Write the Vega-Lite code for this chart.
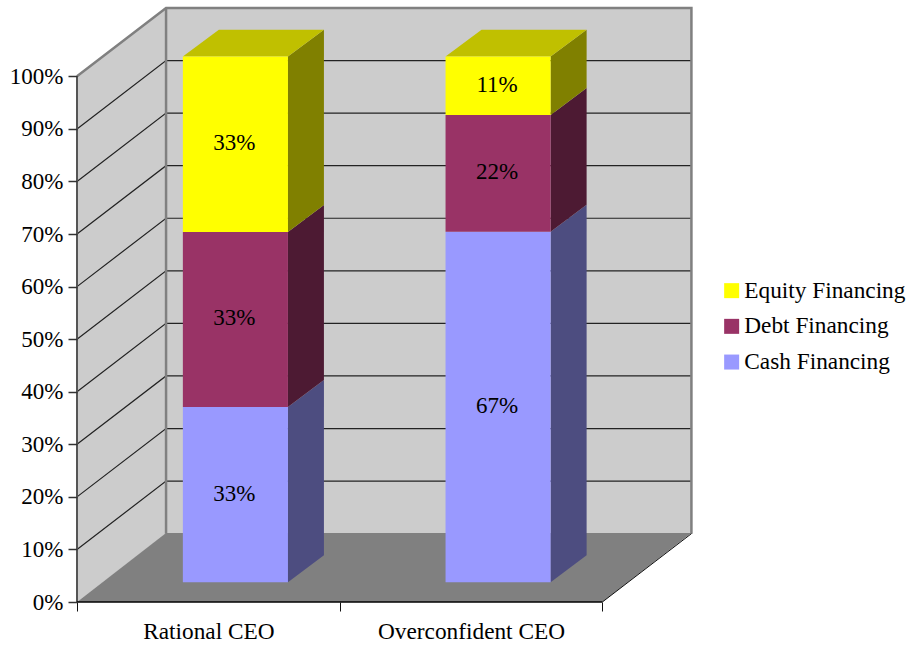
{
"$schema":"https://vega.github.io/schema/vega-lite/v6.json",
"autosize":{"type":"none"},
"padding":{"left":77,"top":8,"right":216,"bottom":44},
"width":616,"height":594,
"background":"white",
"config":{"view":{"stroke":null},"font":"Liberation Serif","text":{"font":"Liberation Serif"}},
"datasets":{
"floor":[{"x":0,"y":0,"y2":0},{"x":0.339,"y":0,"y2":13.15},{"x":2,"y":0,"y2":13.15},{"x":2.339,"y":13.15,"y2":13.15}],
"leftWall":[{"x":0,"y":0,"y2":100},{"x":0.339,"y":13,"y2":113}],
"backWall":[{"x":0.339,"y":13,"y2":113},{"x":2.339,"y":13,"y2":113}],
"grid":[{"pct":10},{"pct":20},{"pct":30},{"pct":40},{"pct":50},{"pct":60},{"pct":70},{"pct":80},{"pct":90}],
"frame":[{"path":"a","x":0,"y":100},{"path":"a","x":0.339,"y":113},{"path":"a","x":2.339,"y":113},{"path":"a","x":2.339,"y":13},{"path":"b","x":0.339,"y":13},{"path":"b","x":0.339,"y":113}],
"floorEdge":[{"x":2,"y":0},{"x":2.339,"y":13}],
"leftAxis":[{"x":0,"y":0},{"x":0,"y":100}],
"bottomAxis":[{"x":0,"y":0},{"x":2,"y":0}]
},
"data":{"values":[
{"ceo":"Rational CEO","series":"Cash Financing","value":33.33},
{"ceo":"Rational CEO","series":"Debt Financing","value":33.33},
{"ceo":"Rational CEO","series":"Equity Financing","value":33.34},
{"ceo":"Overconfident CEO","series":"Cash Financing","value":66.67},
{"ceo":"Overconfident CEO","series":"Debt Financing","value":22.22},
{"ceo":"Overconfident CEO","series":"Equity Financing","value":11.11}
]},
"transform":[
{"stack":"value","groupby":["ceo"],"sort":[{"field":"series","order":"ascending"}],"as":["v0","v1"]},
{"calculate":"datum.ceo==='Rational CEO'?0.403:1.403","as":"left"}
],
"encoding":{
"x":{"field":"x","type":"quantitative","title":null,"scale":{"domain":[0,2.345],"nice":false,"zero":false},
"axis":{"values":[0,0.5,1,1.5,2],"grid":false,"domain":false,"tickSize":9,"tickColor":"#111111","tickWidth":1,"tickOpacity":{"condition":{"test":"datum.value===0.5||datum.value===1.5","value":0},"value":1},"labelExpr":"datum.value===0.5?'Rational CEO':datum.value===1.5?'Overconfident CEO':''","labelFont":"Liberation Serif","labelFontSize":23.3,"labelColor":"#000000","labelPadding":9,"labelLimit":400,"labelOverlap":false,"labelFlush":false,"zindex":1}},
"y":{"field":"y","type":"quantitative","title":null,"stack":null,"scale":{"domain":[0,113],"nice":false,"zero":false},
"axis":{"values":[0,10,20,30,40,50,60,70,80,90,100],"grid":false,"domain":false,"tickSize":9,"tickColor":"#333333","tickWidth":1.5,"labelExpr":"datum.value+'%'","labelFont":"Liberation Serif","labelFontSize":23,"labelColor":"#000000","labelPadding":5,"labelOverlap":false,"labelFlush":false,"zindex":1}}
},
"layer":[
{"data":{"name":"leftWall"},"mark":{"type":"area","color":"#cccccc","orient":"vertical"},"encoding":{"y2":{"field":"y2"}}},
{"data":{"name":"backWall"},"mark":{"type":"area","color":"#cccccc","orient":"vertical"},"encoding":{"y2":{"field":"y2"}}},
{"data":{"name":"grid"},"transform":[
 {"calculate":"[0,1,2]","as":"c"},{"flatten":["c"]},
 {"calculate":"[0,0.339,2.339][datum.c]","as":"x"},
 {"calculate":"datum.pct+(datum.c===0?0:13)","as":"y"}],
 "mark":{"type":"line","color":"#222222","strokeWidth":1.2},"encoding":{"detail":{"field":"pct"},"order":{"field":"c"}}},
{"data":{"name":"floor"},"mark":{"type":"area","color":"#808080","orient":"vertical"},"encoding":{"y2":{"field":"y2"}}},
{"data":{"name":"frame"},"mark":{"type":"line","color":"#808080","strokeWidth":2.5},"encoding":{"detail":{"field":"path"},"order":null}},
{"data":{"name":"floorEdge"},"mark":{"type":"line","color":"#111111","strokeWidth":1},"encoding":{"order":null}},
{"data":{"name":"leftAxis"},"mark":{"type":"line","color":"#555555","strokeWidth":2},"encoding":{"order":null}},
{"data":{"name":"bottomAxis"},"mark":{"type":"line","color":"#000000","strokeWidth":1.5},"encoding":{"order":null}},
{"transform":[
 {"calculate":"[0,1]","as":"c"},{"flatten":["c"]},
 {"calculate":"datum.left+0.4+datum.c*0.137","as":"x"},
 {"calculate":"datum.v0+3.75+datum.c*5.13","as":"y"},
 {"calculate":"datum.v1+3.75+datum.c*5.13","as":"y2"},
 {"calculate":"datum.ceo+datum.series","as":"key"}],
 "mark":{"type":"area","orient":"vertical"},
 "encoding":{"y2":{"field":"y2"},"detail":{"field":"key"},
  "fill":{"field":"series","type":"nominal","legend":null,"scale":{"domain":["Cash Financing","Debt Financing","Equity Financing"],"range":["#4d4d80","#4d1a33","#808000"]}}}},
{"transform":[
 {"filter":"datum.series==='Equity Financing'"},
 {"calculate":"[0,1,2,3]","as":"c"},{"flatten":["c"]},
 {"calculate":"datum.left+[0,0.137,0.4,0.537][datum.c]","as":"x"},
 {"calculate":"datum.v1+3.75+[0,0,0,5.13][datum.c]","as":"y"},
 {"calculate":"datum.v1+3.75+[0,5.13,5.13,5.13][datum.c]","as":"y2"}],
 "mark":{"type":"area","color":"#c0c000","orient":"vertical"},
 "encoding":{"y2":{"field":"y2"},"detail":{"field":"ceo"}}},
{"transform":[
 {"calculate":"datum.left","as":"x"},
 {"calculate":"datum.left+0.4","as":"x2"},
 {"calculate":"datum.v0+3.75","as":"y"},
 {"calculate":"datum.v1+3.75","as":"y2"}],
 "mark":{"type":"rect"},
 "encoding":{"x2":{"field":"x2"},"y2":{"field":"y2"},
  "color":{"field":"series","type":"nominal","scale":{"domain":["Equity Financing","Debt Financing","Cash Financing"],"range":["#ffff00","#993366","#9999ff"]},
   "legend":{"title":null,"orient":"none","legendX":643,"legendY":271,"symbolType":"square","symbolSize":225,"symbolStrokeWidth":0,"symbolOpacity":1,"labelFont":"Liberation Serif","labelFontSize":23.3,"labelColor":"#000000","labelOffset":1,"labelLimit":300,"rowPadding":11.7,"padding":0}}}},
{"transform":[
 {"calculate":"datum.left+0.196","as":"x"},
 {"calculate":"(datum.v0+datum.v1)/2+3.75","as":"y"},
 {"calculate":"format(datum.value,'.0f')+'%'","as":"label"}],
 "mark":{"type":"text","font":"Liberation Serif","fontSize":23,"color":"#000000","baseline":"middle","align":"center","dy":-1},
 "encoding":{"text":{"field":"label"}}}
]
}
